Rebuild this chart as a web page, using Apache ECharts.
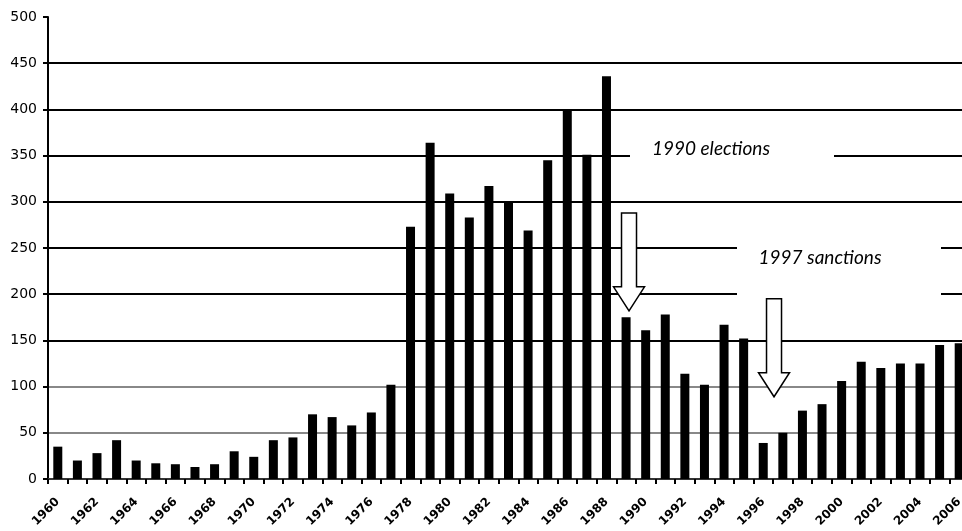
<!DOCTYPE html>
<html><head><meta charset="utf-8">
<script src="https://cdn.jsdelivr.net/npm/echarts@6/dist/echarts.min.js"></script>
<style>html,body{margin:0;padding:0;background:#fff}#c{width:962px;height:531px}</style>
</head><body><div id="c"></div>
<script>
const years = ["1960","1961","1962","1963","1964","1965","1966","1967","1968","1969",
  "1970","1971","1972","1973","1974","1975","1976","1977","1978","1979",
  "1980","1981","1982","1983","1984","1985","1986","1987","1988","1989",
  "1990","1991","1992","1993","1994","1995","1996","1997","1998","1999",
  "2000","2001","2002","2003","2004","2005","2006"];
const values = [35,20,28,42,20,17,16,13,16,30,
  24,42,45,70,67,58,72,102,273,364,
  309,283,317,299,269,345,400,351,436,175,
  161,178,114,102,167,152,39,50,74,81,
  106,127,120,125,125,145,147];
const yMin = 0, yMax = 500, yStep = 50;
const noteTexts = ["1990 elections", "1997 sanctions"];
const arrowPos = [29.15, 36.55];
const arrowTop = [288, 195];
const arrowHead = [208, 115];
const arrowTip = [182, 89];

const splitColors = ['#666','#888','#888','#000','#000','#000','#000','#000','#000','#000','rgba(0,0,0,0)'];

const chart = echarts.init(document.getElementById('c'));
chart.setOption({
  animation: false,
  backgroundColor: '#fff',
  grid: {left: 48, width: 921, top: 17, bottom: 52, containLabel: false, outerBoundsMode: 'none'},
  xAxis: {
    type: 'category', data: years, boundaryGap: true,
    axisLine: {show: true, lineStyle: {color: '#333', width: 2}},
    axisTick: {show: true, interval: 0, length: 5, lineStyle: {color: '#000', width: 2}},
    axisLabel: {show: true, interval: 1, rotate: 45, margin: 21, color: '#000',
      fontFamily: 'DejaVu Sans', fontWeight: 'bold', fontSize: 12},
    splitLine: {show: false}
  },
  yAxis: {
    type: 'value', min: yMin, max: yMax, interval: yStep,
    axisLine: {show: true, lineStyle: {color: '#000', width: 2}},
    axisTick: {show: true, length: 5, lineStyle: {color: '#000', width: 2}},
    axisLabel: {margin: 11, color: '#000', fontFamily: 'DejaVu Sans', fontSize: 14},
    splitLine: {show: true, lineStyle: {color: splitColors, width: 2}}
  },
  series: [{
    type: 'bar', data: values, barWidth: 9,
    itemStyle: {color: '#000'}, z: 3
  }]
});

function px(idx, val) {
  const i0 = Math.floor(idx), f = idx - i0;
  const a = chart.convertToPixel({gridIndex: 0}, [i0, val]);
  const b = chart.convertToPixel({gridIndex: 0}, [i0 + 1, val]);
  return [a[0] + (b[0] - a[0]) * f, a[1]];
}

const graphics = [];
const boxes = [
  {x: 630, y: 128, w: 204, h: 46, text: noteTexts[0], tx: 711, ty: 149},
  {x: 737, y: 212, w: 204, h: 92, text: noteTexts[1], tx: 820, ty: 258}
];
boxes.forEach(b => {
  graphics.push({type: 'rect', shape: {x: b.x, y: b.y, width: b.w, height: b.h},
    style: {fill: '#fff'}, z: 10});
  graphics.push({type: 'text', x: b.tx, y: b.ty, z: 11,
    style: {text: b.text, fill: '#000', font: 'italic 19px Lato', align: 'center', verticalAlign: 'middle'}});
});
for (let k = 0; k < arrowPos.length; k++) {
  const t = px(arrowPos[k], arrowTop[k]);
  const h = px(arrowPos[k], arrowHead[k]);
  const p = px(arrowPos[k], arrowTip[k]);
  const cx = t[0], sw = 7.5, hw = 15.5;
  graphics.push({type: 'polygon', z: 12,
    shape: {points: [[cx - sw, t[1]], [cx + sw, t[1]], [cx + sw, h[1]], [cx + hw, h[1]],
      [cx, p[1]], [cx - hw, h[1]], [cx - sw, h[1]]]},
    style: {fill: '#fff', stroke: '#000', lineWidth: 1.5}});
}
chart.setOption({graphic: graphics});
</script>
</body></html>
